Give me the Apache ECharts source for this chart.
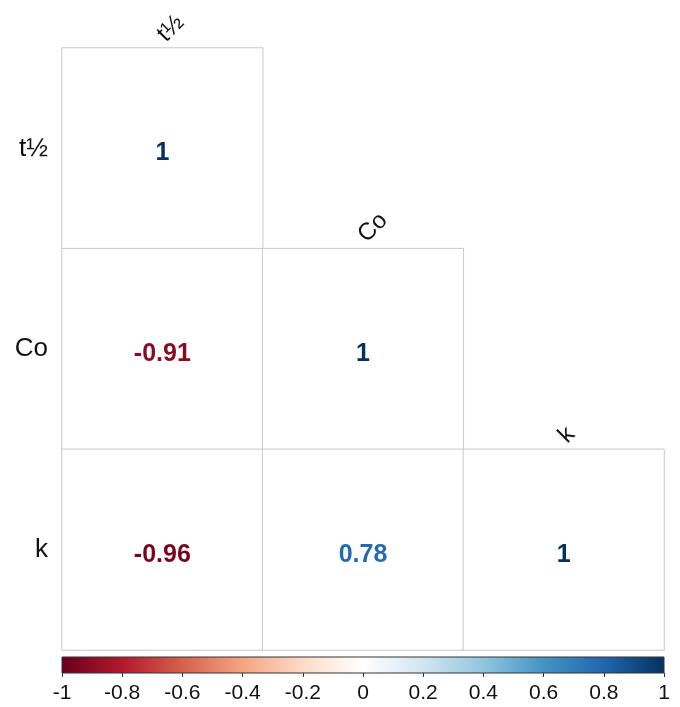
<!DOCTYPE html>
<html>
<head>
<meta charset="utf-8">
<script src="https://cdn.jsdelivr.net/npm/echarts@6/dist/echarts.min.js"></script>
<style>
  html, body { margin: 0; padding: 0; background: #fff; }
  #chart { width: 680px; height: 707px; }
</style>
</head>
<body>
<div id="chart"></div>
<script>
// variables of the correlation matrix
var names = ['t½', 'Co', 'k'];
// lower triangle: [col, row, r]
var corrCells = [
  [0, 0, 1],
  [0, 1, -0.91],
  [1, 1, 1],
  [0, 2, -0.96],
  [1, 2, 0.78],
  [2, 2, 1]
];
// colour bar
var barRange = [-1, 1];
var barTicks = [-1, -0.8, -0.6, -0.4, -0.2, 0, 0.2, 0.4, 0.6, 0.8, 1];
var rdbu = ['#67001F', '#B2182B', '#D6604D', '#F4A582', '#FDDBC7', '#FFFFFF',
            '#D1E5F0', '#92C5DE', '#4393C3', '#2166AC', '#053061'];

function hexToRgb(h) {
  return [parseInt(h.substr(1, 2), 16), parseInt(h.substr(3, 2), 16), parseInt(h.substr(5, 2), 16)];
}
function colorFor(v) {
  var t = (v + 1) / 2 * (rdbu.length - 1);
  var i = Math.min(Math.floor(t), rdbu.length - 2);
  var f = t - i;
  var a = hexToRgb(rdbu[i]), b = hexToRgb(rdbu[i + 1]);
  var c = a.map(function (x, k) { return Math.round(x + (b[k] - x) * f); });
  return 'rgb(' + c.join(',') + ')';
}

var font = '"Liberation Sans", Arial, sans-serif';
var myChart = echarts.init(document.getElementById('chart'));

var option = {
  animation: false,
  backgroundColor: '#fff',
  grid: [
    { left: 62, top: 48, width: 602, height: 602 },
    { left: 62, top: 657, width: 602, height: 16 }
  ],
  xAxis: [
    { type: 'category', data: names, gridIndex: 0, show: false },
    {
      type: 'value', gridIndex: 1, min: barRange[0], max: barRange[1], interval: 0.2,
      axisLine: { show: false },
      axisTick: { show: true, length: 4, lineStyle: { color: '#333' } },
      splitLine: { show: false },
      axisLabel: {
        margin: 10, fontSize: 21, color: '#111', fontFamily: font,
        formatter: function (v) { return String(Math.round(v * 10) / 10); }
      }
    }
  ],
  yAxis: [
    {
      type: 'category', data: names, gridIndex: 0, inverse: true,
      axisLine: { show: false }, axisTick: { show: false },
      splitLine: { show: false },
      axisLabel: { margin: 14, fontSize: 26, color: '#111', fontFamily: font }
    },
    { type: 'value', gridIndex: 1, min: 0, max: 1, show: false }
  ],
  series: [
    {
      type: 'heatmap',
      xAxisIndex: 0, yAxisIndex: 0,
      data: corrCells.map(function (d) {
        return {
          value: d,
          label: { color: colorFor(d[2]) }
        };
      }),
      itemStyle: { color: '#fff', borderColor: '#c8c8c8', borderWidth: 1 },
      label: {
        show: true, fontSize: 25, fontWeight: 'bold', fontFamily: font,
        offset: [0, 5],
        formatter: function (p) { return String(p.value[2]); }
      },
      emphasis: { disabled: true }
    },
    {
      // rotated column labels on top of the diagonal cells
      type: 'custom',
      xAxisIndex: 0, yAxisIndex: 0,
      data: names.map(function (n, i) { return [i, i]; }),
      renderItem: function (params, api) {
        var c = api.coord([api.value(0), api.value(1)]);
        var s = api.size([1, 1]);
        return {
          type: 'text',
          x: c[0] - 1,
          y: c[1] - s[1] / 2 - 10,
          rotation: Math.PI / 4,
          style: {
            text: names[params.dataIndex],
            fontSize: 24, fontFamily: font, fill: '#111',
            align: 'left', verticalAlign: 'middle'
          }
        };
      }
    },
    {
      // colour bar
      type: 'custom',
      xAxisIndex: 1, yAxisIndex: 1,
      data: [[barRange[0], barRange[1]]],
      renderItem: function (params, api) {
        var p0 = api.coord([api.value(0), 0]);
        var p1 = api.coord([api.value(1), 1]);
        return {
          type: 'rect',
          shape: { x: p0[0], y: p1[1], width: p1[0] - p0[0], height: p0[1] - p1[1] },
          style: {
            fill: new echarts.graphic.LinearGradient(0, 0, 1, 0, rdbu.map(function (c, i) {
              return { offset: i / (rdbu.length - 1), color: c };
            })),
            stroke: '#333', lineWidth: 1
          }
        };
      }
    }
  ]
};

myChart.setOption(option);
</script>
</body>
</html>
